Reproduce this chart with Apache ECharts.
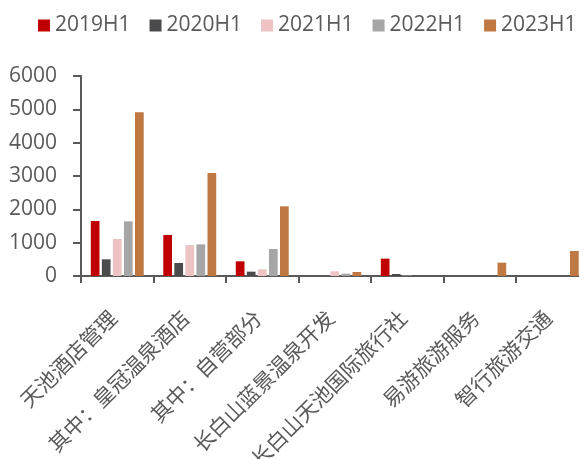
<!DOCTYPE html>
<html>
<head>
<meta charset="utf-8">
<script src="https://cdn.jsdelivr.net/npm/echarts@6/dist/echarts.min.js"></script>
<style>
  html, body { margin: 0; padding: 0; background: #fff; }
  #chart { width: 579px; height: 459px; }
</style>
</head>
<body>
<div id="chart"></div>
<script>
// Business units (categories on the x axis)
const categories = ['天池酒店管理', '其中：皇冠温泉酒店', '其中：自营部分', '长白山蓝景温泉开发', '长白山天池国际旅行社', '易游旅游服务', '智行旅游交通'];

// Half-year revenue per unit
const seriesNames = ['2019H1', '2020H1', '2021H1', '2022H1', '2023H1'];
const v2019H1 = [1650, 1230, 440, 0, 520, 0, 0];
const v2020H1 = [500, 390, 130, 0, 60, 0, 0];
const v2021H1 = [1110, 930, 200, 140, 10, 0, 0];
const v2022H1 = [1640, 950, 810, 70, 0, 0, 0];
const v2023H1 = [4910, 3090, 2090, 120, 0, 400, 750];

const yTicks = { min: 0, max: 6000, interval: 1000 };

const colors = ['#C00000', '#4B4B4D', '#EDC3C4', '#A6A6A6', '#BF7842'];
const values = [v2019H1, v2020H1, v2021H1, v2022H1, v2023H1];

const textColor = '#595959';
const axisColor = '#595959';
const latin = '"Open Sans", "Noto Sans", sans-serif';
const cjk = '"Noto Sans CJK SC", "Open Sans", sans-serif';

const chart = echarts.init(document.getElementById('chart'), null, { renderer: 'canvas' });

chart.setOption({
  animation: false,
  legend: {
    left: 38,
    top: 15,
    width: 560,
    padding: 0,
    itemWidth: 12,
    itemHeight: 12,
    itemGap: 19,
    icon: 'rect',
    textStyle: { color: textColor, fontSize: 21, fontFamily: latin },
    data: seriesNames
  },
  grid: { left: 81, right: -9.5, top: 76, bottom: 183, containLabel: false, outerBoundsMode: 'none' },
  xAxis: {
    type: 'category',
    data: categories,
    axisLine: { show: true, lineStyle: { color: axisColor, width: 2 } },
    axisTick: { show: true, alignWithLabel: false, length: 7, lineStyle: { color: axisColor, width: 2 } },
    axisLabel: { rotate: 45, interval: 0, margin: 34, color: textColor, fontSize: 21, fontFamily: cjk, padding: [0, 6, 0, 0] }
  },
  yAxis: {
    type: 'value',
    min: yTicks.min,
    max: yTicks.max,
    interval: yTicks.interval,
    axisLine: { show: true, lineStyle: { color: axisColor, width: 2 } },
    axisTick: { show: true, length: 8, lineStyle: { color: axisColor, width: 2 } },
    splitLine: { show: false },
    axisLabel: { margin: 24, color: textColor, fontSize: 21, fontFamily: latin, formatter: v => String(v) }
  },
  series: seriesNames.map((name, i) => ({
    name: name,
    type: 'bar',
    data: values[i],
    barGap: '27%',
    barCategoryGap: '27%',
    itemStyle: { color: colors[i] }
  }))
});
</script>
</body>
</html>
